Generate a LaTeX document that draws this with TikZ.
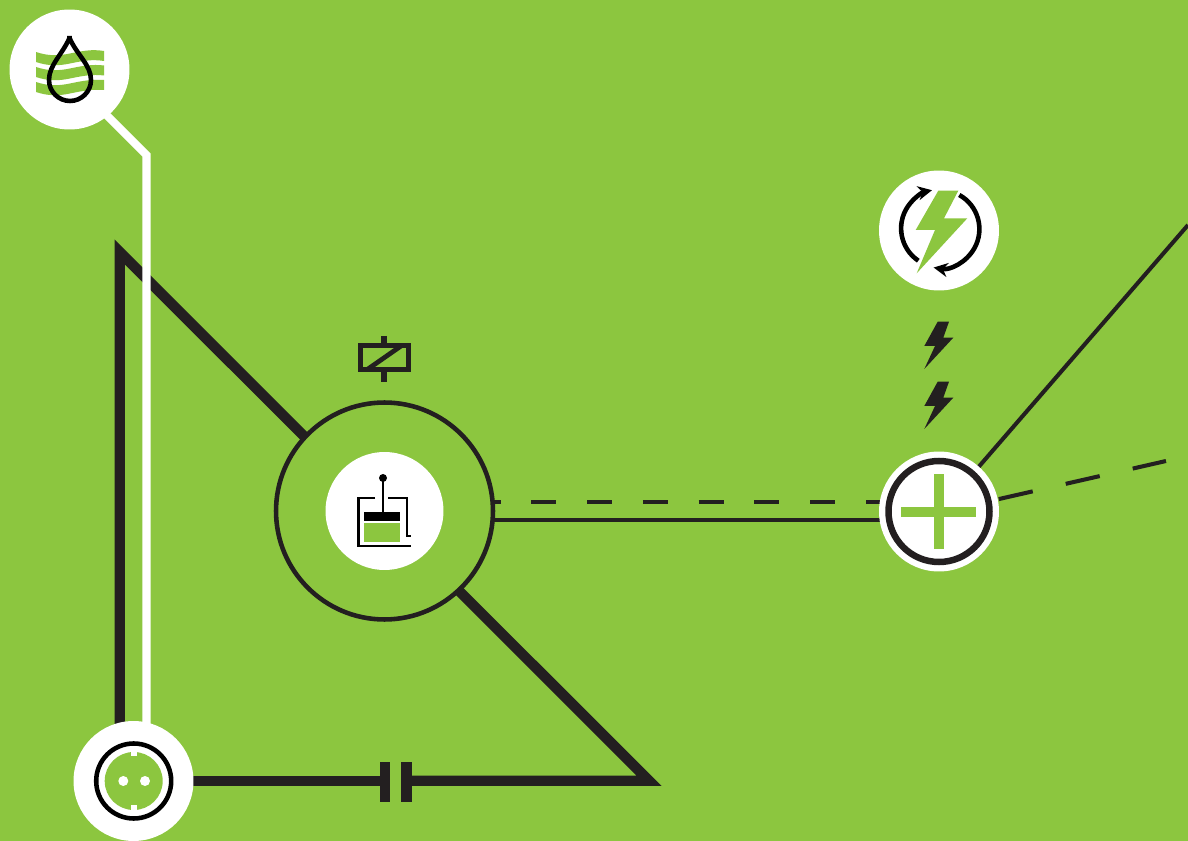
\documentclass[tikz,border=0pt]{standalone}
\usepackage{xcolor}
\usetikzlibrary{arrows.meta, backgrounds}
\definecolor{leafGreen}{HTML}{8CC63F}
\definecolor{wireBlack}{HTML}{231F20}
\tikzset{
    disc_white/.style={
        circle, fill=white, inner sep=0pt, minimum size=2.4cm
    },
    disc_small/.style={
        circle, fill=white, inner sep=0pt, minimum size=2.36cm
    },
    ring_main/.style={
        circle, draw=wireBlack, fill=leafGreen, line width=2.6pt, inner sep=0pt, minimum size=4.34cm
    },
    cap_plate/.style={
        rectangle, fill=wireBlack, inner sep=0pt, minimum height=0.8cm
    },
    wire_heavy/.style={
        draw=wireBlack, line width=5.9pt, miter limit=10
    },
    wire_white/.style={
        draw=white, line width=4.6pt
    },
    wire_thin/.style={
        draw=wireBlack, line width=2.3pt
    },
    icon_line/.style={
        draw=black, line width=2.6pt
    }
}

\begin{document}
\begin{tikzpicture}[x=0.02cm, y=-0.02cm, >=Stealth]
    \useasboundingbox (0,0) rectangle (1188,841);

    % Main discs and the ring
    \node[ring_main] (ring) at (384.5,511) {};
    \node[disc_small] (piston) at (384.5,511) {};
    \node[disc_white] (source) at (69.5,69.5) {};
    \node[disc_white] (socket) at (133.5,781) {};
    \node[disc_white] (plus) at (939,511.5) {};
    \node[disc_white] (spark) at (939,230.5) {};

    % Capacitor plates
    \node[cap_plate, minimum width=0.2cm] (capL) at (385,782) {};
    \node[cap_plate, minimum width=0.22cm] (capR) at (406.5,782) {};

    % Free ends and hidden corners
    \coordinate (apexTop) at (119.7,252);
    \coordinate (apexRight) at (649,780.7);
    \coordinate (ringJoin) at (384.5,516.5);
    \coordinate (socketWest) at (119.7,781);
    \coordinate (elbow) at (146.5,155);
    \coordinate (sourceTail) at (70,78.5);
    \coordinate (ringSolid) at (384.5,520);
    \coordinate (plusSolid) at (939,520);
    \coordinate (ringDash) at (384.5,502);
    \coordinate (plusDash) at (939,502);
    \coordinate (plusExit) at (939,512.7);
    \coordinate (exitTop) at (1188,225);
    \coordinate (exitDash) at (1166,461);

    \begin{pgfonlayer}{background}
        \fill[leafGreen] (0,0) rectangle (1188,841);

        % Heavy triangle
        \draw[wire_heavy] (socketWest) -- (apexTop) -- (ringJoin) -- (apexRight) -- (capR |- apexRight);
        \draw[wire_heavy] (socket.center |- apexRight) -- (capL |- apexRight);

        % White feed
        \draw[wire_white] (sourceTail) -- (elbow) -- (socket -| elbow);

        % Links to the plus disc
        \draw[wire_thin] (ringSolid) -- (plusSolid);
        \draw[wire_thin, dash pattern=on 14.17pt off 17.57pt, dash phase=11.6pt] (ringDash) -- (plusDash);
        \draw[wire_thin] (plusExit) -- (exitTop);
        \draw[wire_thin, dash pattern=on 19.85pt off 19.26pt, dash phase=4.25pt] (plusExit) -- (exitDash);
    \end{pgfonlayer}

    % Source icon: water bands and drop
    \foreach \dy in {0,15,30} {
        \fill[leafGreen] (36,52+\dy) .. controls (48,56+\dy) and (58,56+\dy) .. (70,53.5+\dy)
            .. controls (82,51+\dy) and (92,49+\dy) .. (104,51-0.5*\dy/15+\dy)
            -- (104,61-0.5*\dy/15+\dy) .. controls (92,59+\dy) and (82,61+\dy) .. (70,63.5+\dy)
            .. controls (58,66+\dy) and (48,66+\dy) .. (36,62+\dy) -- cycle;
    }
    \draw[icon_line, line join=round] (69.5,36) -- (69.5,38) .. controls (62,55) and (49,65) .. (49,80)
        .. controls (49,92) and (59,101) .. (70,101) .. controls (81,101) and (91,92) .. (91,80)
        .. controls (91,65) and (77,55) .. (69.5,38);

    % Relay symbol
    \draw[wire_thin, line width=2.7pt] (360.5,345.5) rectangle (408.5,369.5);
    \draw[wire_thin, line width=2.7pt] (368,369) -- (401,346);
    \draw[wire_thin, line width=3.4pt] (384,336) -- (384,345);
    \draw[wire_thin, line width=3.4pt] (384,370) -- (384,382);

    % Piston icon
    \fill[black] (383,478) circle (4);
    \draw[black, line width=1.6pt] (383,478) -- (383,512);
    \fill[black] (364,512) rectangle (400,521);
    \fill[leafGreen] (364,523.5) rectangle (400,542);
    \draw[black, line width=1.6pt] (375,498) -- (358.5,498) -- (358.5,546) -- (411,546);
    \draw[black, line width=1.6pt] (388,498) -- (407,498) -- (407,536) -- (411,536);

    % Spark icon
    \fill[leafGreen] (938.3,190.7) -- (958.3,190.7) -- (944,218.3) -- (967.3,218.3)
        -- (916.7,273.3) -- (935,230) -- (915.7,230) -- cycle;
    \draw[icon_line, ->, >={Stealth[length=8pt, width=8pt]}] (918.3,260.7) arc[start angle=124, end angle=258, radius=39];
    \draw[icon_line, ->, >={Stealth[length=8pt, width=8pt]}] (959.3,195) arc[start angle=-61, end angle=100, radius=39];

    % Small bolts
    \foreach \dy in {0,60} {
        \fill[wireBlack] (937.7,321.7+\dy) -- (949,321.7+\dy) -- (943.3,337.7+\dy) -- (953.3,337.7+\dy)
            -- (924.3,369+\dy) -- (935,346+\dy) -- (924.3,346+\dy) -- cycle;
    }

    % Plus icon
    \draw[wireBlack, line width=3.7pt] (plus.center) circle (50.5);
    \fill[leafGreen] (900.7,506.7) rectangle (976,516.7);
    \fill[leafGreen] (934,474) rectangle (944,549);

    % Socket icon
    \draw[black, line width=2.6pt] (133.7,781) circle (37.5);
    \fill[leafGreen] (133.7,781) circle (29);
    \fill[white] (130.7,751) rectangle (136.7,756);
    \fill[white] (130.7,805) rectangle (136.7,810);
    \fill[white] (123.3,781) circle (5);
    \fill[white] (145,781) circle (5);
\end{tikzpicture}
\end{document}
